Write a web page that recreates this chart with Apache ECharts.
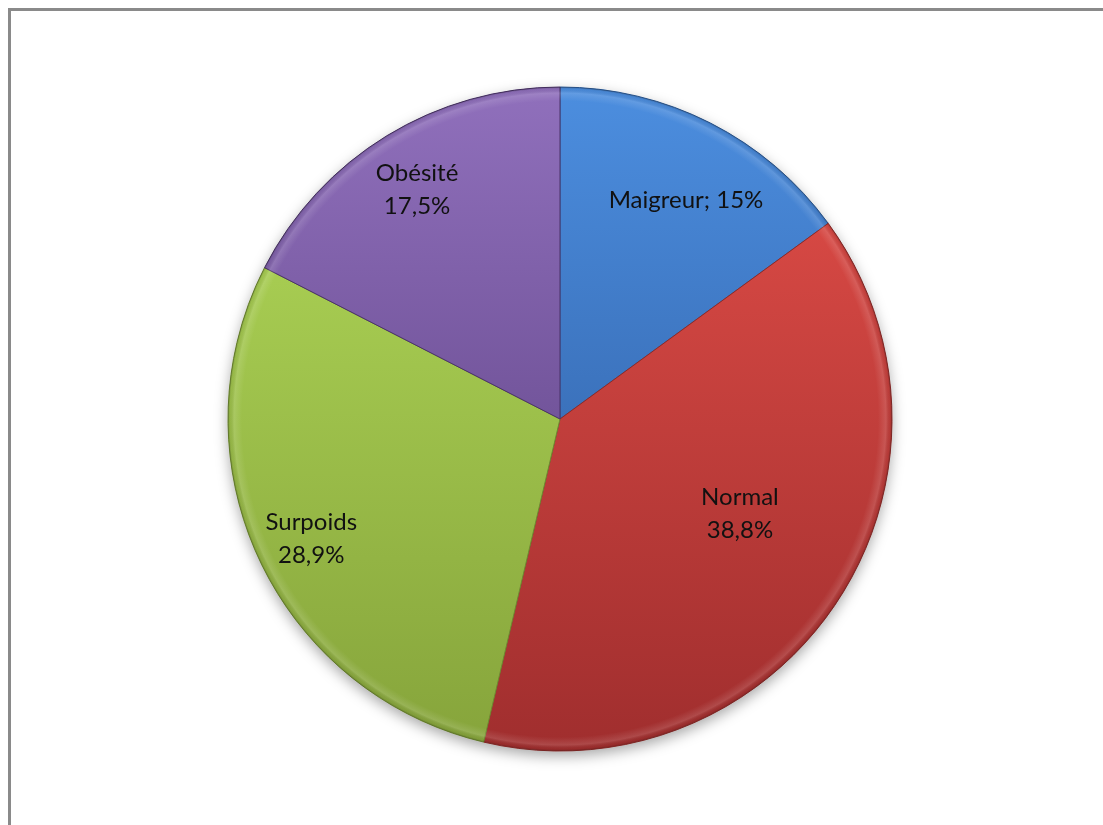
<!DOCTYPE html>
<html>
<head>
<meta charset="utf-8">
<script src="https://cdn.jsdelivr.net/npm/echarts@6/dist/echarts.min.js"></script>
<style>
  html, body { margin: 0; padding: 0; background: #ffffff; }
  #chart { width: 1103px; height: 825px; }
</style>
</head>
<body>
<div id="chart"></div>
<script>
// IMC categories and their shares (%)
const categories = ['Maigreur', 'Normal', 'Surpoids', 'Obésité'];
const shares = [15, 38.8, 28.9, 17.5];
const shareLabels = ['15%', '38,8%', '28,9%', '17,5%'];

// slice shading: light (top) to dark (bottom)
const topColors = ['#4C8EDF', '#E44F49', '#B3DB5A', '#9070BC'];
const bottomColors = ['#2A5598', '#A02E2E', '#86A43B', '#55397A'];
const edgeColors = ['#2C5A96', '#8E2A28', '#6F8A30', '#4B3369'];

const CX = 560, CY = 419, R = 332;

function shade(i) {
  return {
    type: 'linear', x: 0, y: CY - R, x2: 0, y2: CY + R, global: true,
    colorStops: [
      { offset: 0, color: topColors[i] },
      { offset: 1, color: bottomColors[i] }
    ]
  };
}

const pieData = categories.map((name, i) => ({
  name: name,
  value: shares[i],
  itemStyle: { color: shade(i), borderColor: edgeColors[i], borderWidth: 1 }
}));

const labelFont = {
  fontFamily: 'Lato, "Open Sans", sans-serif',
  fontSize: 24,
  color: '#111111',
  lineHeight: 33
};

// transparent ring used only to place a subset of labels at its mid-radius
function labelRing(radius, shown, offset) {
  return {
    type: 'pie',
    center: [CX, CY],
    radius: radius,
    startAngle: 90,
    clockwise: true,
    silent: true,
    z: 5,
    labelLine: { show: false },
    emphasis: { disabled: true },
    data: categories.map((name, i) => ({
      name: name,
      value: shares[i],
      itemStyle: { color: 'rgba(0,0,0,0)', borderWidth: 0 },
      label: {
        show: shown.indexOf(name) >= 0,
        position: 'inside',
        offset: offset || [0, 0],
        formatter: name === 'Maigreur'
          ? name + '; ' + shareLabels[i]
          : name + '\n' + shareLabels[i],
        ...labelFont
      }
    }))
  };
}

const chart = echarts.init(document.getElementById('chart'), null, { renderer: 'canvas' });
chart.setOption({
  backgroundColor: '#ffffff',
  animation: false,
  graphic: [{
    type: 'rect',
    shape: { x: 9.5, y: 9.5, width: 1120, height: 840 },
    style: { fill: null, stroke: '#8a8a8a', lineWidth: 3 },
    z: 0
  }],
  series: [
    {
      // drop shadow beneath the whole pie
      type: 'pie',
      center: [CX, CY],
      radius: [0, R],
      silent: true,
      z: 1,
      label: { show: false },
      labelLine: { show: false },
      data: [{
        value: 1,
        itemStyle: {
          color: '#9a9a9a',
          shadowBlur: 14,
          shadowOffsetY: 5,
          shadowColor: 'rgba(0,0,0,0.35)'
        }
      }]
    },
    {
      type: 'pie',
      center: [CX, CY],
      radius: [0, R],
      startAngle: 90,
      clockwise: true,
      z: 2,
      silent: true,
      label: { show: false },
      labelLine: { show: false },
      emphasis: { disabled: true },
      data: pieData
    },
    {
      // bevelled rim: soft highlight just inside the outer edge
      type: 'pie',
      center: [CX, CY],
      radius: [R - 14, R],
      silent: true,
      z: 3,
      label: { show: false },
      labelLine: { show: false },
      emphasis: { disabled: true },
      data: [{
        value: 1,
        itemStyle: {
          color: {
            type: 'radial', x: CX, y: CY, r: R, global: true,
            colorStops: [
              { offset: (R - 14) / R, color: 'rgba(255,255,255,0)' },
              { offset: (R - 6) / R, color: 'rgba(255,255,255,0.13)' },
              { offset: (R - 2) / R, color: 'rgba(0,0,0,0.05)' },
              { offset: 1, color: 'rgba(0,0,0,0.22)' }
            ]
          }
        }
      }]
    },
    labelRing([174, R], ['Maigreur'], [10, 9]),
    labelRing([210, R], ['Surpoids', 'Obésité'], [0, 5]),
    labelRing([70, R], ['Normal'], [10, -18])
  ]
});
</script>
</body>
</html>
